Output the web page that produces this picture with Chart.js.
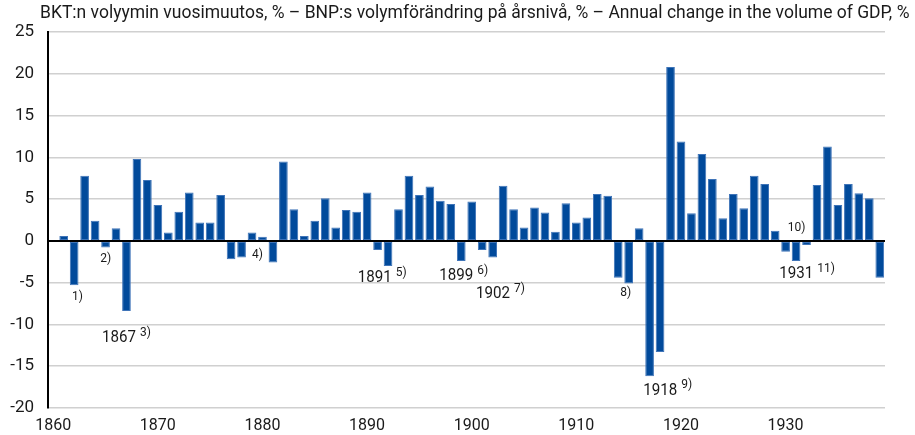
<!DOCTYPE html>
<html>
<head>
<meta charset="utf-8">
<script src="https://cdn.jsdelivr.net/npm/chart.js@4/dist/chart.umd.min.js"></script>
<style>
  html, body { margin: 0; padding: 0; background: #fff; }
  .chart-container { width: 915px; height: 435px; position: relative; }
</style>
</head>
<body>
<div class="chart-container"><canvas id="gdpChart"></canvas></div>
<script>
const titleText = 'BKT:n volyymin vuosimuutos, % \u2013 BNP:s volymförändring på årsnivå, % \u2013 Annual change in the volume of GDP, %';

const years = [];
for (let y = 1860; y <= 1939; y++) years.push(String(y));

// annual change, %, 1860..1939 (1860 has no value)
const changes1860s = [null, 0.6, -5.3, 7.8, 2.4, -0.8, 1.5, -8.4, 9.8, 7.3];
const changes1870s = [4.3, 1.0, 3.5, 5.8, 2.2, 2.2, 5.5, -2.2, -2.0, 1.0];
const changes1880s = [0.5, -2.6, 9.5, 3.8, 0.6, 2.4, 5.1, 1.6, 3.7, 3.5];
const changes1890s = [5.8, -1.1, -3.0, 3.8, 7.8, 5.5, 6.5, 4.8, 4.4, -2.4];
const changes1900s = [4.7, -1.1, -2.0, 6.6, 3.8, 1.6, 4.0, 3.4, 1.1, 4.5];
const changes1910s = [2.2, 2.8, 5.6, 5.4, -4.4, -5.1, 1.5, -16.2, -13.3, 20.8];
const changes1920s = [11.9, 3.3, 10.4, 7.4, 2.7, 5.6, 3.9, 7.8, 6.8, 1.2];
const changes1930s = [-1.3, -2.4, -0.5, 6.7, 11.3, 4.3, 6.8, 5.7, 5.1, -4.4];

const changes = [].concat(changes1860s, changes1870s, changes1880s, changes1890s,
  changes1900s, changes1910s, changes1920s, changes1930s);

// footnote labels: main text, note mark, anchored at (year, value)
const noteYears = ['', '', '1867', '', '1891', '1899', '1902', '', '1918', '', '1931'];
const noteMarks = ['1)', '2)', '3)', '4)', '5)', '6)', '7)', '8)', '9)', '10)', '11)'];
const noteAtYear = [1861.8, 1864.5, 1864.66, 1879.0, 1889.1, 1896.9, 1900.4, 1914.2, 1916.4, 1930.2, 1929.4];
const noteAtValue = [-6.7, -2.2, -11.65, -1.7, -4.44, -4.2, -6.36, -6.24, -17.9, 1.56, -3.96];

const titlePlugin = {
  id: 'titleText',
  afterDraw(chart) {
    const ctx = chart.ctx;
    ctx.save();
    ctx.fillStyle = '#1a1a1a';
    ctx.font = '17.5px Roboto';
    ctx.textBaseline = 'middle';
    ctx.textAlign = 'left';
    ctx.fillText(titleText, 40, 14, 872);
    ctx.restore();
  },
};

const notesPlugin = {
  id: 'footnotes',
  afterDatasetsDraw(chart) {
    const ctx = chart.ctx;
    const xs = chart.scales.x;
    const ys = chart.scales.y;
    const step = xs.getPixelForValue(1) - xs.getPixelForValue(0);
    ctx.save();
    ctx.fillStyle = '#1a1a1a';
    ctx.textBaseline = 'middle';
    ctx.textAlign = 'left';
    noteMarks.forEach((mark, i) => {
      const px = xs.getPixelForValue(0) + (noteAtYear[i] - 1860) * step;
      const py = ys.getPixelForValue(noteAtValue[i]);
      let x = px;
      if (noteYears[i]) {
        ctx.font = '17px Roboto';
        ctx.fillText(noteYears[i], x, py, 34);
        x += 38;
        ctx.font = '12px Roboto';
        ctx.fillText(mark, x, py - 5);
      } else {
        ctx.font = '12px Roboto';
        ctx.fillText(mark, x, py);
      }
    });
    ctx.restore();
  },
};

const chartConfig = {
  type: 'bar',
  data: {
    labels: years,
    datasets: [
      {
        label: 'GDP',
        data: changes,
        backgroundColor: '#014a9b',
        borderColor: '#3f74b8',
        borderWidth: 1,
        borderSkipped: false,
        barPercentage: 0.83,
        categoryPercentage: 1.0,
      },
    ],
  },
  options: {
    responsive: false,
    animation: false,
    layout: { padding: { top: 32, right: 30, left: 0, bottom: 0 } },
    plugins: {
      legend: { display: false },
      tooltip: { enabled: false },
    },
    scales: {
      x: {
        grid: { display: false, drawTicks: false },
        border: { display: false },
        ticks: {
          autoSkip: false,
          maxRotation: 0,
          padding: 8,
          color: '#1a1a1a',
          font: { family: 'Roboto', size: 16 },
          callback: (v, i) => (Number(years[i]) % 10 === 0 ? years[i] : ''),
        },
        afterFit: s => { s.height = 27; },
      },
      y: {
        min: -20,
        max: 25,
        ticks: {
          stepSize: 5,
          padding: 14,
          color: '#1a1a1a',
          font: { family: 'Roboto', size: 17 },
        },
        grid: {
          drawTicks: false,
          color: ctx => (ctx.tick && ctx.tick.value === 0 ? '#000' : '#d0d0d0'),
          lineWidth: ctx => (ctx.tick && ctx.tick.value === 0 ? 2 : 1.5),
        },
        border: { color: '#000', width: 2 },
        afterFit: s => { s.width = 48; },
      },
    },
  },
  plugins: [titlePlugin, notesPlugin],
};

const canvas = document.getElementById('gdpChart');
canvas.width = 915;
canvas.height = 435;
const gdpChart = new Chart(canvas, chartConfig);
</script>
</body>
</html>
